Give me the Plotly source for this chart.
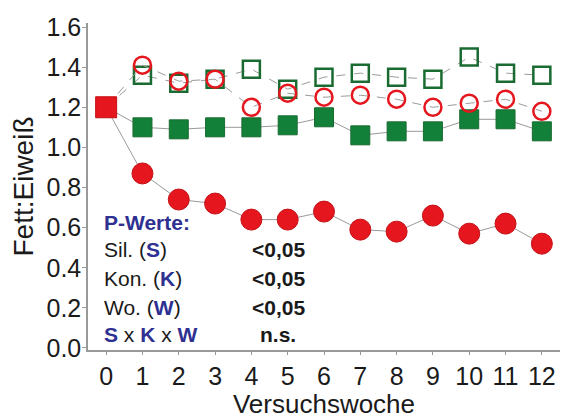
import plotly.graph_objects as go

weeks = list(range(0, 13))
red_filled = [1.20, 0.87, 0.74, 0.72, 0.64, 0.64, 0.68, 0.59, 0.58, 0.66, 0.57, 0.62, 0.52]
red_open = [1.20, 1.41, 1.33, 1.34, 1.20, 1.27, 1.25, 1.26, 1.24, 1.20, 1.22, 1.24, 1.18]
green_filled = [1.20, 1.10, 1.09, 1.10, 1.10, 1.11, 1.15, 1.06, 1.08, 1.08, 1.14, 1.14, 1.08]
green_open = [1.20, 1.36, 1.32, 1.34, 1.39, 1.29, 1.35, 1.37, 1.35, 1.34, 1.45, 1.37, 1.36]
red_filled_symbols = ["square"] + ["circle"] * 12

ytick_vals = [0.0, 0.2, 0.4, 0.6, 0.8, 1.0, 1.2, 1.4, 1.6]
ytick_text = ["0.0", "0.2", "0.4", "0.6", "0.8", "1.0", "1.2", "1.4", "1.6"]

p_rows = [
    ("Sil. (<b><span style='color:#2e3192'>S</span></b>)", "<b><0,05</b>"),
    ("Kon. (<b><span style='color:#2e3192'>K</span></b>)", "<b><0,05</b>"),
    ("Wo. (<b><span style='color:#2e3192'>W</span></b>)", "<b><0,05</b>"),
    ("<b><span style='color:#2e3192'>S</span></b> x <b><span style='color:#2e3192'>K</span></b> x <b><span style='color:#2e3192'>W</span></b>", "<b>n.s.</b>"),
]

RED = "#e5161d"
GREEN = "#13803a"
DKGREEN = "#1a6b32"
LINE = "#9a9a9a"
NAVY = "#2e3192"

fig = go.Figure()
fig.add_trace(go.Scatter(x=weeks, y=green_filled, mode="lines+markers",
                         line=dict(color=LINE, width=1),
                         marker=dict(symbol="square", size=19, color=GREEN,
                                     line=dict(color=DKGREEN, width=1))))
fig.add_trace(go.Scatter(x=weeks, y=green_open, mode="lines+markers",
                         line=dict(color=LINE, width=1, dash="dash"),
                         marker=dict(symbol="square-open", size=17, color=DKGREEN,
                                     line=dict(width=2.5))))
fig.add_trace(go.Scatter(x=weeks, y=red_open, mode="lines+markers",
                         line=dict(color=LINE, width=1, dash="dash"),
                         marker=dict(symbol="circle-open", size=17, color=RED,
                                     line=dict(width=2.5))))
fig.add_trace(go.Scatter(x=weeks, y=red_filled, mode="lines+markers",
                         line=dict(color=LINE, width=1),
                         marker=dict(symbol=red_filled_symbols, size=21, color=RED,
                                     line=dict(color="#c41016", width=1))))

annotations = []
annotations.append(dict(x=0.03, y=0.391, xref="paper", yref="paper", xanchor="left",
                        yanchor="middle", showarrow=False,
                        text="<b>P-Werte:</b>", font=dict(size=21, color=NAVY)))
row_y = [0.306, 0.220, 0.131, 0.046]
for (label, val), yy in zip(p_rows, row_y):
    annotations.append(dict(x=0.03, y=yy, xref="paper", yref="paper", xanchor="left",
                            yanchor="middle", showarrow=False, text=label,
                            font=dict(size=21, color="#1a1a1a")))
    annotations.append(dict(x=0.403, y=yy, xref="paper", yref="paper", xanchor="center",
                            yanchor="middle", showarrow=False, text=val,
                            font=dict(size=21, color="#1a1a1a")))

fig.update_layout(
    width=570, height=419,
    margin=dict(l=88, r=10, t=23, b=69),
    paper_bgcolor="white", plot_bgcolor="white",
    showlegend=False,
    font=dict(family="Liberation Sans, Arial, sans-serif", color="#1a1a1a"),
    annotations=annotations,
    xaxis=dict(range=[-0.5, 12.5], tickvals=weeks, ticktext=[str(w) for w in weeks],
               showgrid=False, zeroline=False, showline=True, linecolor="#999999",
               linewidth=1.5, ticks="outside", ticklen=3, tickcolor="#999999",
               tickfont=dict(size=25), automargin=False,
               title=dict(text="Versuchswoche", font=dict(size=26), standoff=9)),
    yaxis=dict(range=[-0.01, 1.62], tickvals=ytick_vals, ticktext=ytick_text,
               showgrid=False, zeroline=False, showline=True, linecolor="#999999",
               linewidth=1.5, ticks="outside", ticklen=4, tickcolor="#999999",
               tickfont=dict(size=25), ticklabelstandoff=-4, automargin=False,
               title=dict(text="Fett:Eiweiß", font=dict(size=28), standoff=5)),
)

fig.write_html("out.html")
